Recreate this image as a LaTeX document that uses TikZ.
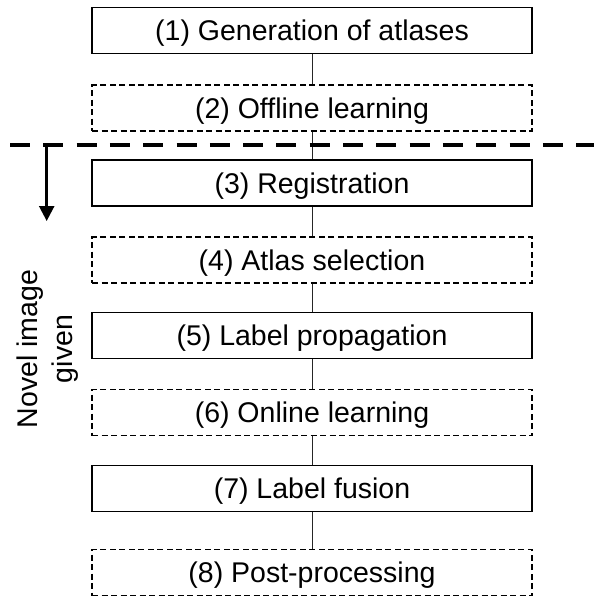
\documentclass[tikz,border=0pt]{standalone}
\usepackage{fontspec}
\setmainfont{Liberation Sans}
\usetikzlibrary{arrows.meta}
\begin{document}
\begin{tikzpicture}[x=1pt,y=-1pt,
  box/.style={draw=black, line width=1.1pt, minimum width=440pt, minimum height=46pt,
    inner sep=0pt, text height=23pt, text depth=3pt, font=\fontsize{28.5}{34}\selectfont},
  dbox/.style={box, dash pattern=on 6pt off 3.5pt},
  link/.style={draw=black!85, line width=1pt},
  sep/.style={line width=4pt, dash pattern=on 20pt off 13.3pt},
  arr/.style={line width=2.5pt, -{Triangle[width=15pt,length=15pt]}},
  side/.style={rotate=90, align=center, font=\fontsize{28.5}{35}\selectfont}]
\useasboundingbox (0,0) rectangle (594,597);
\node[box]  (b1) at (312,30.3)  {(1) Generation of atlases};
\node[dbox] (b2) at (312,108)   {(2) Offline learning};
\node[box]  (b3) at (312,183)   {(3) Registration};
\node[dbox] (b4) at (312,260)   {(4) Atlas selection};
\node[box]  (b5) at (312,335.3) {(5) Label propagation};
\node[dbox] (b6) at (312,412.7) {(6) Online learning};
\node[box]  (b7) at (312,488.3) {(7) Label fusion};
\node[dbox] (b8) at (312,572.7) {(8) Post-processing};
\foreach \a/\b in {b1/b2,b2/b3,b3/b4,b4/b5,b5/b6,b6/b7,b7/b8}
  \draw[link] (\a.south) -- (\b.north);
\coordinate (dl) at (10,145.3);
\coordinate (dr) at (594,145.3);
\draw[sep] (dl) -- (dr);
\coordinate (as) at (46.7,143.3);
\coordinate (ae) at (46.7,221);
\draw[arr] (as) -- (ae);
\node[side] (nov) at (47.5,349) {Novel image\\given};
\end{tikzpicture}
\end{document}
